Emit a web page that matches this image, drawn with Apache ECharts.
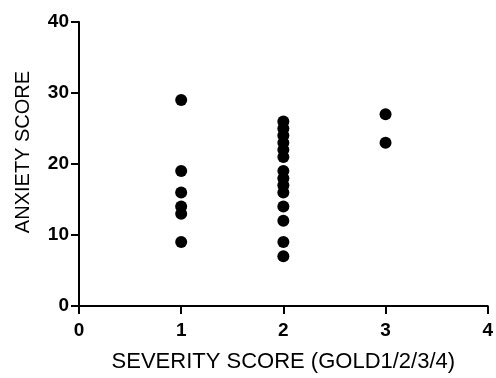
<!DOCTYPE html>
<html>
<head>
<meta charset="utf-8">
<script src="https://cdn.jsdelivr.net/npm/echarts@6/dist/echarts.min.js"></script>
<style>
  html, body { margin: 0; padding: 0; background: #fff; }
  #chart { width: 496px; height: 378px; }
</style>
</head>
<body>
<div id="chart"></div>
<script>
// Severity grade (GOLD) per patient and the matching anxiety score
const severity = [1, 1, 1, 1, 1, 1,
                  2, 2, 2, 2, 2, 2, 2, 2, 2, 2, 2, 2, 2, 2,
                  3, 3];
const anxiety  = [29, 19, 16, 14, 13, 9,
                  26, 25, 24, 23, 22, 21, 19, 18, 17, 16, 14, 12, 9, 7,
                  27, 23];
const xTicks = [0, 1, 2, 3, 4];
const yTicks = [0, 10, 20, 30, 40];

const points = severity.map((s, i) => [s, anxiety[i]]);

const chart = echarts.init(document.getElementById('chart'), null, { renderer: 'canvas' });

const axisCommon = {
  axisLine: { show: true, onZero: false, lineStyle: { color: '#000', width: 2 } },
  axisTick: { show: true, length: 8, lineStyle: { color: '#000', width: 2 } },
  splitLine: { show: false },
  axisLabel: { color: '#000', fontFamily: 'Liberation Sans', fontWeight: 'bold', fontSize: 19 }
};

chart.setOption({
  animation: false,
  backgroundColor: '#fff',
  grid: { left: 79, right: 7, top: 22, bottom: 71, containLabel: false },
  xAxis: Object.assign({}, axisCommon, {
    type: 'value',
    min: xTicks[0],
    max: xTicks[xTicks.length - 1],
    interval: 1,
    name: 'SEVERITY SCORE (GOLD1/2/3/4)',
    nameLocation: 'middle',
    nameGap: 45,
    nameTextStyle: { color: '#000', fontFamily: 'Liberation Sans', fontSize: 22 },
    axisLabel: Object.assign({}, axisCommon.axisLabel, { margin: 15 })
  }),
  yAxis: Object.assign({}, axisCommon, {
    type: 'value',
    min: yTicks[0],
    max: yTicks[yTicks.length - 1],
    interval: 10,
    name: 'ANXIETY SCORE',
    nameLocation: 'middle',
    nameGap: 46,
    nameTextStyle: { color: '#000', fontFamily: 'Liberation Sans', fontSize: 20, padding: [0, 0, 0, 24] },
    axisLabel: Object.assign({}, axisCommon.axisLabel, { margin: 10 })
  }),
  series: [{
    type: 'scatter',
    data: points,
    symbol: 'circle',
    symbolSize: 12,
    itemStyle: { color: '#000', opacity: 1 }
  }]
});
</script>
</body>
</html>
